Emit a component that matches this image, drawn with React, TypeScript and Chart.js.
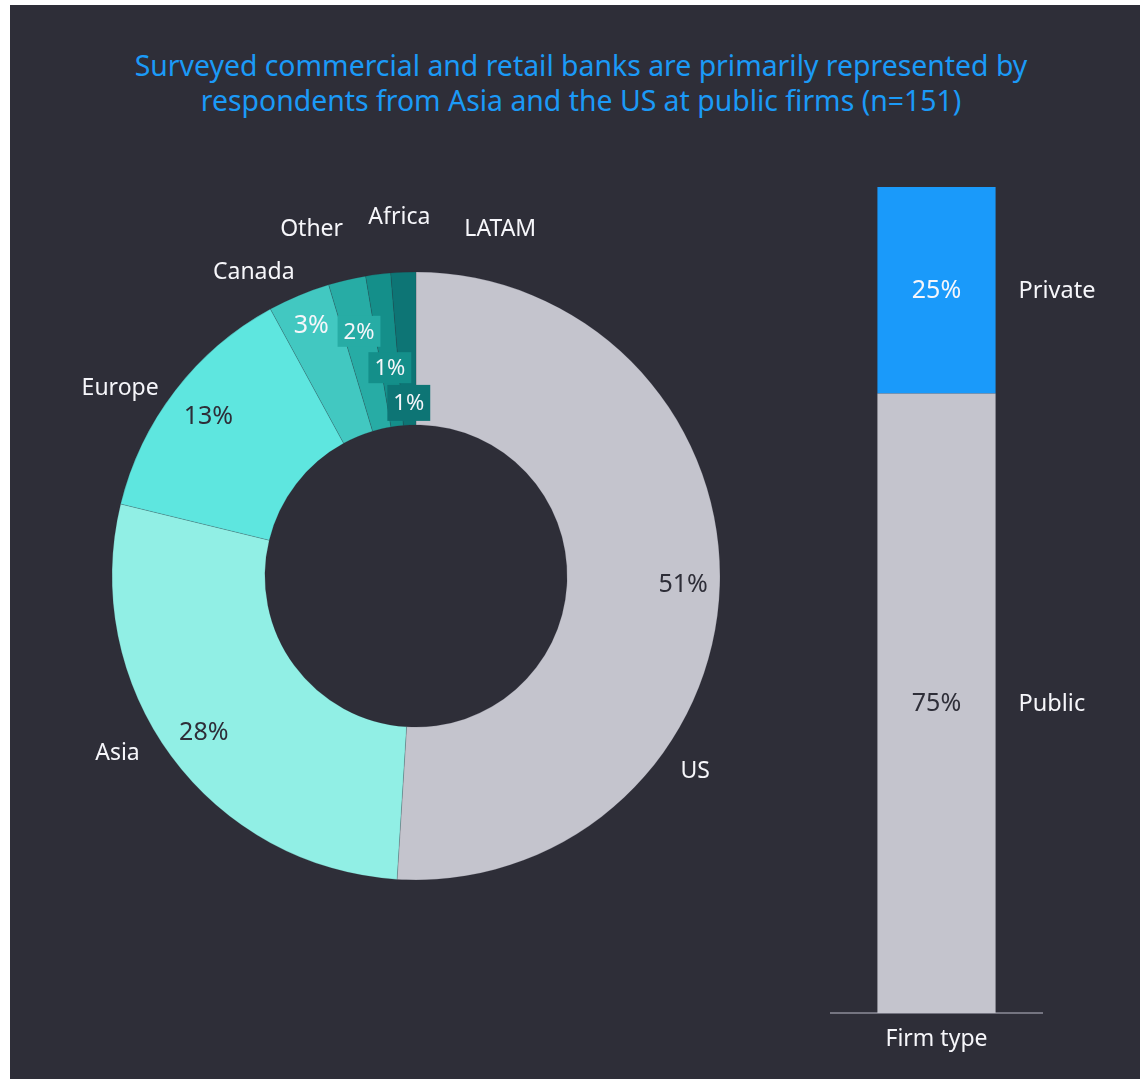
import React, { useEffect, useRef } from "react";
import { Chart, registerables } from "chart.js";

Chart.register(...registerables);

// ---------- data ----------
const titleLines = [
  "Surveyed commercial and retail banks are primarily represented by",
  "respondents from Asia and the US at public firms (n=151)",
];

const regionLabels = ["US", "Asia", "Europe", "Canada", "Other", "Africa", "LATAM"];
const regionCounts = [77, 42, 20, 5, 3, 2, 2];
const sampleSize = 151;

const firmAxisLabels = ["Firm type"];
const firmTypeLabels = ["Public", "Private"];
const firmTypeShares = [75, 25];

// ---------- styles ----------
const BG = "#2E2E38";
const TITLE_COLOR = "#1B9AF7";
const LIGHT_TEXT = "#F6F6FA";
const DARK_TEXT = "#2E2E38";
const FONT = "'Noto Sans', 'DejaVu Sans', sans-serif";

const regionColors = ["#C4C4CD", "#91EFE5", "#5EE6DF", "#42C8C1", "#27ACA5", "#148F8A", "#0D7575"];
const regionPctColors = [DARK_TEXT, DARK_TEXT, DARK_TEXT, LIGHT_TEXT, LIGHT_TEXT, LIGHT_TEXT, LIGHT_TEXT];
const regionPctBoxed = [false, false, false, false, true, true, true];
// label placement relative to each arc (style, not data)
const pctRadiusFrac = [0.76, 0.735, 0.725, 0.79, 0.655, 0.385, 0.145];
const nameNudgeDeg = [33, 5.7, -5, -5.4, -3.6, 4.5, 16];
const nameGap = [36, 43, 47, 41, 59, 56, 54];

const firmColors = ["#C4C4CD", "#1A9AFA"];
const firmValueColors = [DARK_TEXT, LIGHT_TEXT];

const doughnutLabels = {
  id: "doughnutLabels",
  afterDatasetsDraw(chart: any) {
    const ctx = chart.ctx as CanvasRenderingContext2D;
    const meta = chart.getDatasetMeta(0);
    const total = regionCounts.reduce((a, b) => a + b, 0);
    ctx.save();
    ctx.textAlign = "center";
    ctx.textBaseline = "middle";
    meta.data.forEach((arc: any, i: number) => {
      const p = arc.getProps(["x", "y", "startAngle", "endAngle", "innerRadius", "outerRadius"], true);
      const mid = (p.startAngle + p.endAngle) / 2;
      // percentage
      const pct = Math.round((regionCounts[i] / total) * 100) + "%";
      const r = p.innerRadius + (p.outerRadius - p.innerRadius) * pctRadiusFrac[i];
      const px = p.x + r * Math.cos(mid);
      const py = p.y + r * Math.sin(mid);
      const boxed = regionPctBoxed[i];
      ctx.font = `${boxed ? 22 : 25}px ${FONT}`;
      if (boxed) {
        const w = ctx.measureText(pct).width + 12;
        const h = i === regionLabels.length - 1 ? 36 : 31;
        ctx.fillStyle = regionColors[i];
        ctx.fillRect(px - w / 2, py - h / 2, w, h);
      }
      ctx.fillStyle = regionPctColors[i];
      ctx.fillText(pct, px, py + 1);
      // category name
      const na = mid + (nameNudgeDeg[i] * Math.PI) / 180;
      const nr = p.outerRadius + nameGap[i];
      ctx.font = `23px ${FONT}`;
      ctx.fillStyle = LIGHT_TEXT;
      ctx.fillText(regionLabels[i], p.x + nr * Math.cos(na), p.y + nr * Math.sin(na) + 1);
    });
    ctx.restore();
  },
};

const barLabels = {
  id: "barLabels",
  afterDatasetsDraw(chart: any) {
    const ctx = chart.ctx as CanvasRenderingContext2D;
    ctx.save();
    ctx.textBaseline = "middle";
    chart.data.datasets.forEach((ds: any, di: number) => {
      const meta = chart.getDatasetMeta(di);
      meta.data.forEach((bar: any, j: number) => {
        const { x, y, base, width } = bar.getProps(["x", "y", "base", "width"], true);
        const cy = (y + base) / 2;
        ctx.textAlign = "center";
        ctx.font = `25px ${FONT}`;
        ctx.fillStyle = firmValueColors[di];
        ctx.fillText(`${ds.data[j]}%`, x, cy + 1);
        ctx.textAlign = "left";
        ctx.font = `23.5px ${FONT}`;
        ctx.fillStyle = LIGHT_TEXT;
        ctx.fillText(ds.label, x + width / 2 + 23, cy + 1);
      });
    });
    ctx.restore();
  },
};

export default function App() {
  const donutRef = useRef<HTMLCanvasElement>(null);
  const barRef = useRef<HTMLCanvasElement>(null);

  useEffect(() => {
    Chart.defaults.font.family = FONT;
    const donut = new Chart(donutRef.current as HTMLCanvasElement, {
      type: "doughnut",
      data: {
        labels: regionLabels,
        datasets: [
          {
            data: regionCounts,
            backgroundColor: regionColors,
            borderColor: "rgba(46,46,56,0.18)",
            borderWidth: 1,
            hoverOffset: 0,
          },
        ],
      },
      options: {
        responsive: false,
        animation: false,
        events: [],
        radius: 304,
        cutout: "49.7%",
        layout: { padding: 0 },
        plugins: { legend: { display: false }, tooltip: { enabled: false } },
      } as any,
      plugins: [doughnutLabels],
    });

    const bar = new Chart(barRef.current as HTMLCanvasElement, {
      type: "bar",
      data: {
        labels: firmAxisLabels,
        datasets: firmTypeLabels.map((lab, i) => ({
          label: lab,
          data: [firmTypeShares[i]],
          backgroundColor: firmColors[i],
          borderWidth: 0,
          categoryPercentage: 1,
          barPercentage: 0.56,
        })),
      },
      options: {
        responsive: false,
        animation: false,
        events: [],
        layout: { padding: { left: 11, right: 98, top: 37, bottom: 10 } },
        plugins: { legend: { display: false }, tooltip: { enabled: false } },
        scales: {
          x: {
            stacked: true,
            grid: { display: false, drawTicks: false },
            border: { display: true, color: "#747480", width: 2 },
            ticks: { color: LIGHT_TEXT, font: { size: 23, family: FONT }, padding: 13 },
            afterFit: (scale: any) => {
              scale.height = 56;
            },
          },
          y: { stacked: true, display: false, min: 0, max: 100 },
        },
      } as any,
      plugins: [barLabels],
    });

    return () => {
      donut.destroy();
      bar.destroy();
    };
  }, []);

  return (
    <div
      style={{
        position: "absolute",
        left: 10,
        top: 5,
        width: 1130,
        height: 1074,
        background: BG,
        overflow: "hidden",
      }}
    >
      <div
        style={{
          position: "absolute",
          left: 0,
          top: 43,
          width: 1142,
          textAlign: "center",
          color: TITLE_COLOR,
          fontFamily: FONT,
          fontSize: 28.4,
          lineHeight: "35px",
        }}
      >
        {titleLines.map((l) => (
          <div key={l}>{l}</div>
        ))}
      </div>
      <canvas
        ref={donutRef}
        width={800}
        height={860}
        style={{ position: "absolute", left: 6, top: 141, width: 800, height: 860 }}
      />
      <canvas
        ref={barRef}
        width={320}
        height={929}
        style={{ position: "absolute", left: 810, top: 145, width: 320, height: 929 }}
      />
    </div>
  );
}
